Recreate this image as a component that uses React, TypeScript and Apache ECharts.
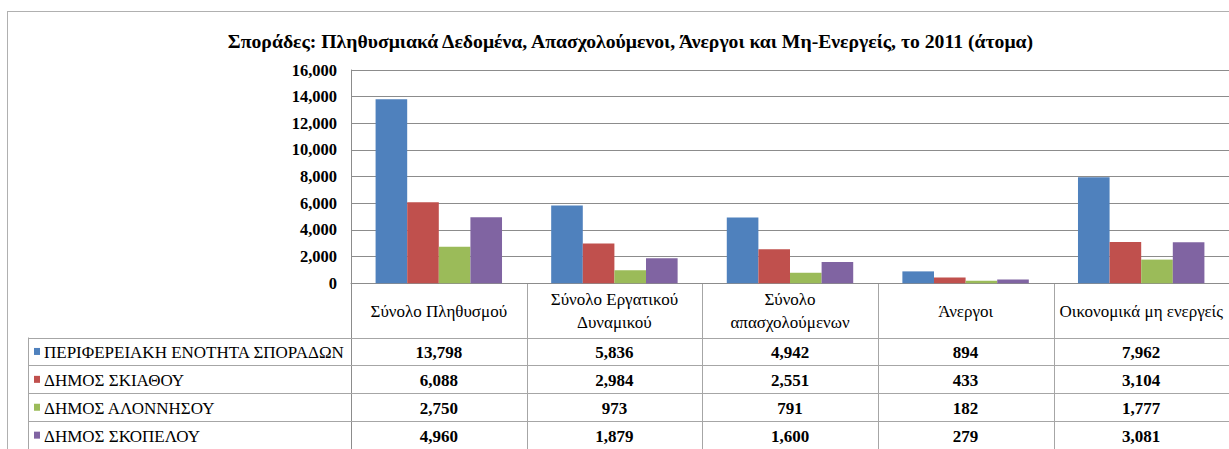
import React, { useEffect, useRef } from 'react';
import * as echarts from 'echarts';

const titleText = 'Σποράδες: Πληθυσμιακά Δεδομένα, Απασχολούμενοι, Άνεργοι και Μη-Ενεργείς, το 2011 (άτομα)';
const categories = [
  'Σύνολο Πληθυσμού',
  'Σύνολο Εργατικού\nΔυναμικού',
  'Σύνολο\nαπασχολούμενων',
  'Άνεργοι',
  'Οικονομικά μη ενεργείς',
];
const seriesNames = [
  'ΠΕΡΙΦΕΡΕΙΑΚΗ ΕΝΟΤΗΤΑ ΣΠΟΡΑΔΩΝ',
  'ΔΗΜΟΣ ΣΚΙΑΘΟΥ',
  'ΔΗΜΟΣ ΑΛΟΝΝΗΣΟΥ',
  'ΔΗΜΟΣ ΣΚΟΠΕΛΟΥ',
];
const sporades = [13798, 5836, 4942, 894, 7962];
const skiathos = [6088, 2984, 2551, 433, 3104];
const alonnisos = [2750, 973, 791, 182, 1777];
const skopelos = [4960, 1879, 1600, 279, 3081];
const seriesValues = [sporades, skiathos, alonnisos, skopelos];
const colors = ['#4F81BD', '#C0504D', '#9BBB59', '#8064A2'];
const yMin = 0;
const yMax = 16000;
const yInterval = 2000;

const FONT = "'Liberation Serif', 'Times New Roman', serif";
const fmt = (v: number) => v.toLocaleString('en-US');

export default function App() {
  const ref = useRef<HTMLDivElement>(null);
  useEffect(() => {
    if (!ref.current) return;
    const chart = echarts.init(ref.current, undefined, { renderer: 'svg' });
    const grid = { left: 351, top: 70, width: 878.5, height: 213.3 };
    chart.setOption({
      animation: false,
      textStyle: { fontFamily: FONT },
      grid: { ...grid, containLabel: false },
      xAxis: {
        type: 'category',
        data: categories,
        axisLine: { show: true, lineStyle: { color: '#8C8C8C', width: 1 } },
        axisTick: { show: false },
        axisLabel: { show: false },
        splitLine: { show: false },
      },
      yAxis: {
        type: 'value',
        min: yMin,
        max: yMax,
        interval: yInterval,
        axisLine: { show: true, lineStyle: { color: '#8C8C8C', width: 1 } },
        axisTick: { show: false },
        axisLabel: {
          margin: 14,
          color: '#000',
          fontFamily: FONT,
          fontWeight: 'bold',
          fontSize: 16.5,
          formatter: (v: number) => fmt(v),
        },
        splitLine: { show: true, lineStyle: { color: '#8C8C8C', width: 1 } },
      },
      series: seriesValues.map((vals, i) => ({
        type: 'bar',
        name: seriesNames[i],
        data: vals,
        barWidth: '18%',
        barGap: '0%',
        itemStyle: { color: colors[i] },
      })),
    });

    const zeroY = chart.convertToPixel({ yAxisIndex: 0 }, 0) as number;
    const centers = categories.map((_, i) => chart.convertToPixel({ xAxisIndex: 0 }, i) as number);
    const catW = grid.width / categories.length;
    const leftX = grid.left;
    const rightX = grid.left + grid.width;
    const tableLeft = 28;
    const headerBottom = 337.5;
    const rowH = 27.9;
    const bottom = 449;
    const lineColor = '#A6A6A6';
    const els: any[] = [];
    const hline = (x1: number, x2: number, y: number, c = lineColor) =>
      els.push({ type: 'line', silent: true, shape: { x1, y1: Math.round(y) + 0.5, x2, y2: Math.round(y) + 0.5 }, style: { stroke: c, lineWidth: 1 } });
    const vline = (x: number, y1: number, y2: number, c = lineColor) =>
      els.push({ type: 'line', silent: true, shape: { x1: Math.round(x) + 0.5, y1, x2: Math.round(x) + 0.5, y2 }, style: { stroke: c, lineWidth: 1 } });

    hline(7, 1229, 11, '#B0B0B0');
    vline(7, 11, bottom, '#B0B0B0');

    els.push({
      type: 'text', silent: true, x: 630.5, y: 41,
      style: { text: titleText, fontFamily: FONT, fontWeight: 'bold', fontSize: 19.7, fill: '#000', textAlign: 'center', textVerticalAlign: 'middle' },
    });

    for (let k = 0; k <= categories.length; k++) {
      const x = leftX + k * catW;
      if (k === 0) vline(x, zeroY, bottom, '#8C8C8C');
      else vline(x, zeroY, bottom);
    }
    vline(tableLeft, headerBottom, bottom);
    for (let r = 0; r < seriesNames.length; r++) {
      hline(tableLeft, rightX, headerBottom + r * rowH);
    }

    categories.forEach((c, i) => {
      els.push({
        type: 'text', silent: true, x: centers[i], y: (zeroY + headerBottom) / 2 + 1,
        style: { text: c, fontFamily: FONT, fontSize: 17, lineHeight: 23, fill: '#000', textAlign: 'center', textVerticalAlign: 'middle' },
      });
    });

    seriesNames.forEach((name, r) => {
      const cy = headerBottom + r * rowH + rowH / 2;
      els.push({ type: 'rect', silent: true, shape: { x: 34, y: cy - 3.5, width: 6, height: 7 }, style: { fill: colors[r] } });
      els.push({
        type: 'text', silent: true, x: 44, y: cy + 1,
        style: { text: name, fontFamily: FONT, fontSize: 17, fill: '#000', textAlign: 'left', textVerticalAlign: 'middle' },
      });
      seriesValues[r].forEach((v, i) => {
        els.push({
          type: 'text', silent: true, x: centers[i], y: cy + 1.5,
          style: { text: fmt(v), fontFamily: FONT, fontWeight: 'bold', fontSize: 17, fill: '#000', textAlign: 'center', textVerticalAlign: 'middle' },
        });
      });
    });

    chart.setOption({ graphic: { elements: els } });
    return () => chart.dispose();
  }, []);
  return <div ref={ref} style={{ position: 'absolute', left: 0, top: 0, width: 1229, height: 449, background: '#fff' }} />;
}
